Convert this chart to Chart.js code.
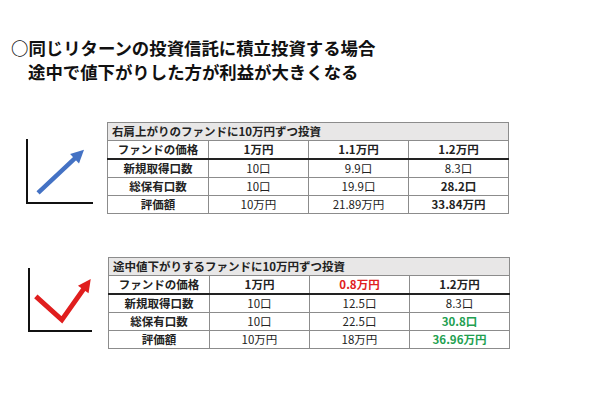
<!DOCTYPE html>
<html><head><meta charset="utf-8">
<script src="https://cdn.jsdelivr.net/npm/chart.js@4/dist/chart.umd.min.js"></script>
<style>
body{margin:0;width:600px;height:400px;background:#fff;font-family:"Noto Sans CJK JP","Noto Sans",sans-serif;position:relative;overflow:hidden}
.title{position:absolute;left:11px;top:36px;font-size:17.4px;font-weight:bold;line-height:24px;color:#111;white-space:nowrap}
.title .l2{padding-left:17px}
table{position:absolute;border-collapse:collapse;table-layout:fixed;width:401px;font-size:11.5px;color:#222}
td{border:1px solid #8c8c8c;height:17px;padding:0;text-align:center;line-height:17px;white-space:nowrap;overflow:hidden}
td.hd{background:#e8e7e7;text-align:left;padding-left:4px;font-weight:bold}
td.b{font-weight:bold}
tr.price td{border-bottom:2px solid #222}
.red{color:#e02020;font-weight:bold}
.green{color:#22a050;font-weight:bold}
canvas{position:absolute}
</style>
</head><body>
<div class="title">○同じリターンの投資信託に積立投資する場合<br><span class="l2">途中で値下がりした方が利益が大きくなる</span></div>
<canvas id="icon1" width="85" height="83" style="left:17px;top:130px"></canvas>
<canvas id="icon2" width="82" height="82" style="left:19px;top:259px"></canvas>
<table id="t1" style="left:107px;top:122px"></table>
<table id="t2" style="left:108px;top:257px"></table>
<script>
// ---- table data ----
const rowLabels = ["ファンドの価格", "新規取得口数", "総保有口数", "評価額"];
const title1 = "右肩上がりのファンドに10万円ずつ投資";
const prices1 = ["1万円", "1.1万円", "1.2万円"];
const newUnits1 = ["10口", "9.9口", "8.3口"];
const totalUnits1 = ["10口", "19.9口", "28.2口"];
const values1 = ["10万円", "21.89万円", "33.84万円"];
const title2 = "途中値下がりするファンドに10万円ずつ投資";
const prices2 = ["1万円", "0.8万円", "1.2万円"];
const newUnits2 = ["10口", "12.5口", "8.3口"];
const totalUnits2 = ["10口", "22.5口", "30.8口"];
const values2 = ["10万円", "18万円", "36.96万円"];
// ---- icon line data ----
const risingLine = [{x:1.7,y:1.6},{x:8.1,y:7.8}];
const dipLine = [{x:1.1,y:5.6},{x:5.3,y:1.8},{x:9.4,y:7.6}];

function buildTable(id, title, rows, styles){
  const t = document.getElementById(id);
  let h = '<colgroup><col style="width:101px"><col style="width:100px"><col style="width:100px"><col style="width:100px"></colgroup>';
  h += '<tr><td class="hd" colspan="4">'+title+'</td></tr>';
  rows.forEach((r,i)=>{
    h += '<tr'+(i===0?' class="price"':'')+'><td class="b">'+rowLabels[i]+'</td>';
    r.forEach((v,j)=>{ const c = (styles[i]&&styles[i][j])||''; h += '<td class="'+c+'">'+v+'</td>'; });
    h += '</tr>';
  });
  t.innerHTML = h;
}
buildTable('t1', title1, [prices1,newUnits1,totalUnits1,values1],
  [["b","b","b"],[],["","","b"],["","","b"]]);
buildTable('t2', title2, [prices2,newUnits2,totalUnits2,values2],
  [["b","red","b"],[],["","","green"],["","","green"]]);

const arrowPlugin = {
  id:'arrowHead',
  afterDatasetsDraw(chart){
    const pts = chart.getDatasetMeta(0).data;
    const a = pts[pts.length-2], b = pts[pts.length-1];
    const ang = Math.atan2(b.y-a.y, b.x-a.x);
    const col = chart.data.datasets[0].borderColor;
    const L = 13, W = 6.5, ext = 6;
    const tx = b.x + Math.cos(ang)*ext, ty = b.y + Math.sin(ang)*ext;
    const ctx = chart.ctx;
    ctx.save();
    ctx.fillStyle = col;
    ctx.translate(tx, ty); ctx.rotate(ang);
    ctx.beginPath(); ctx.moveTo(0,0); ctx.lineTo(-L, W); ctx.lineTo(-L, -W); ctx.closePath(); ctx.fill();
    ctx.restore();
  }
};
function axis(){
  return {type:'linear', min:0, max:10, ticks:{display:false},
    grid:{display:false, drawTicks:false, tickLength:0},
    border:{display:true, color:'#111', width:2}};
}
function makeIcon(id, pts, color, w){
  new Chart(document.getElementById(id), {
    type:'line',
    data:{datasets:[{data:pts, borderColor:color, borderWidth:w, pointRadius:0, tension:0,
      borderJoinStyle:'miter', borderCapStyle:'butt', clip:false}]},
    options:{responsive:false, animation:false, events:[], layout:{padding:10},
      plugins:{legend:{display:false}, tooltip:{enabled:false}},
      scales:{x:axis(), y:axis()}},
    plugins:[arrowPlugin]
  });
}
makeIcon('icon1', risingLine, '#4472c4', 4.5);
makeIcon('icon2', dipLine, '#e01e1e', 5);
</script>
</body></html>
